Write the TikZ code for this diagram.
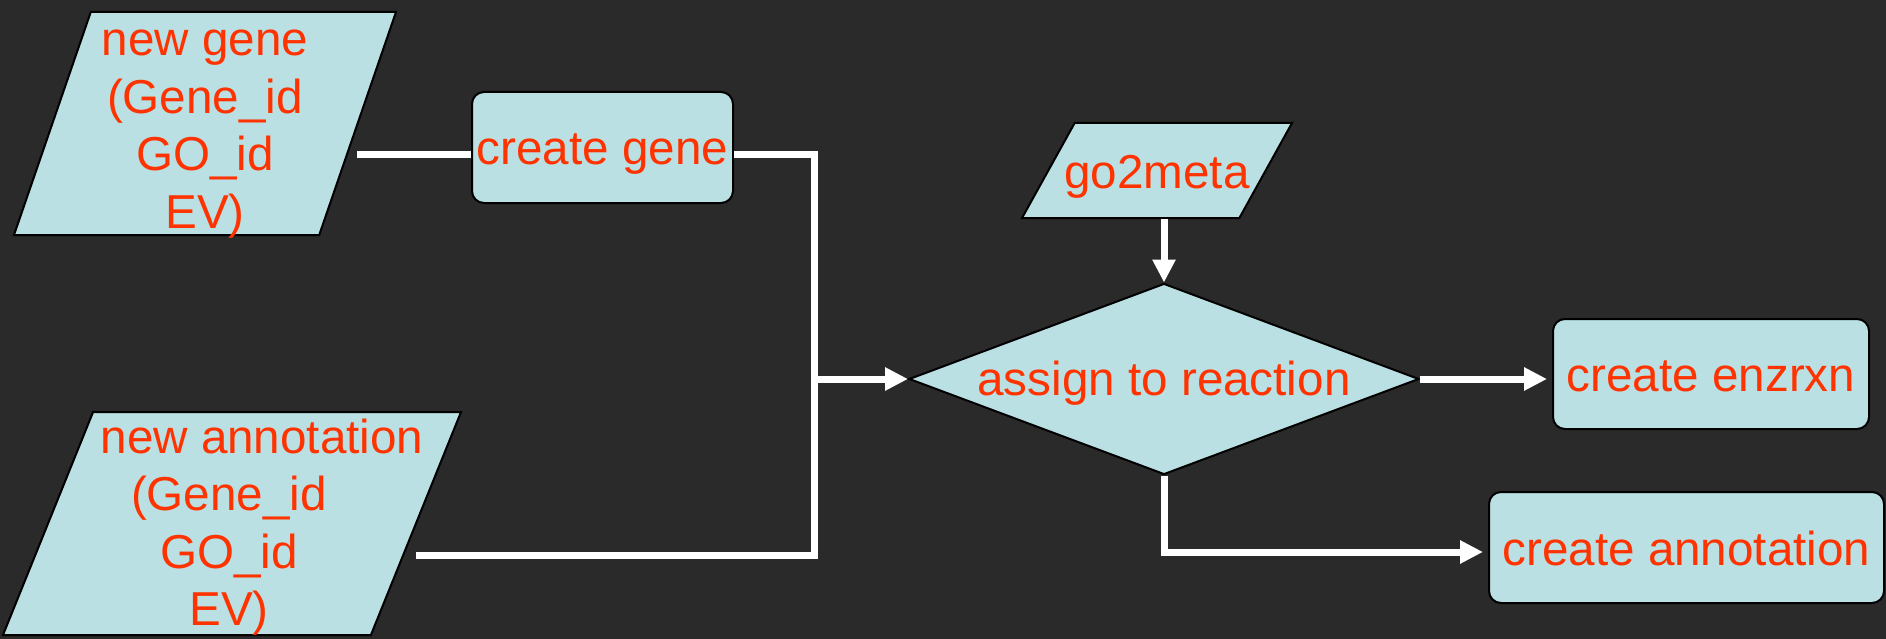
\documentclass[tikz,border=0pt]{standalone}
\usepackage{fontspec}
\setmainfont{Liberation Sans}
\usepackage{tikz}
\usetikzlibrary{shapes.geometric,arrows.meta}
\definecolor{bg}{HTML}{2A2A2A}
\definecolor{boxfill}{HTML}{BAE0E3}
\definecolor{txtred}{HTML}{FF3300}

\begin{document}
\begin{tikzpicture}[x=1pt,y=-1pt,
  every node/.style={font=\fontsize{47.6}{57.5}\selectfont, text=txtred, inner sep=0pt},
  box/.style={draw=black, line width=2pt, fill=boxfill},
  process/.style={box, rectangle, rounded corners=12pt, text height=45pt, text depth=10pt},
  io/.style={box, trapezium, trapezium stretches body},
  link/.style={draw=white, line width=7pt},
  flow/.style={link, -{Triangle[length=23pt,width=22pt]}}]
  \useasboundingbox (0,0) rectangle (1886,639);
  \fill[bg] (0,0) rectangle (1886,639);

  \node[io, trapezium left angle=71, trapezium right angle=109, text height=223pt, text depth=0pt,
    minimum width=382pt] (newgene) at (205,123.5) {};
  \node[align=center] (newgenetext) at (205,134) {new gene\\(Gene\_id\\GO\_id\\EV)};
  \node[io, trapezium left angle=68, trapezium right angle=112, text height=223pt, text depth=0pt,
    minimum width=458pt] (newannot) at (232,523.5) {};
  \node[align=center] (newannottext) at (229,527)
    {\hspace*{66pt}new annotation\\(Gene\_id\\GO\_id\\EV)};
  \node[io, trapezium left angle=61, trapezium right angle=119, text height=66pt, text depth=29pt,
    minimum width=270pt] (go2meta) at (1157,170.5) {\makebox[150pt]{go2meta}};

  \node[process, minimum width=261pt, minimum height=111pt] (creategene) at (602.5,147.5) {create gene};
  \node[box, diamond, aspect=2.67, minimum width=510pt, minimum height=191pt,
    text height=35pt, text depth=3pt] (assign) at (1164,379) {assign to reaction};
  \node[process, minimum width=316pt, minimum height=110pt] (createenz) at (1711,374) {create enzrxn};
  \node[process, minimum width=395pt, minimum height=111pt] (createannot) at (1686.5,547.5) {create annotation};

  \coordinate (geneout) at (357,155);
  \coordinate (annotout) at (416,555);
  \coordinate (bustop) at (814,155);
  \coordinate (busbot) at (814,555);

  \draw[link] (geneout) -- (geneout -| creategene.west);
  \draw[link] (geneout -| creategene.east) -- (bustop) -- (busbot) -- (annotout);
  \draw[flow] (bustop |- assign.west) -- (assign.west);
  \draw[flow] (assign.north |- go2meta.south) -- (assign.north);
  \draw[flow, shorten >=5pt] (assign.east) -- ([yshift=-5pt]createenz.west);
  \draw[flow, shorten >=5pt] (assign.south) |- ([yshift=-4.5pt]createannot.west);
\end{tikzpicture}
\end{document}
